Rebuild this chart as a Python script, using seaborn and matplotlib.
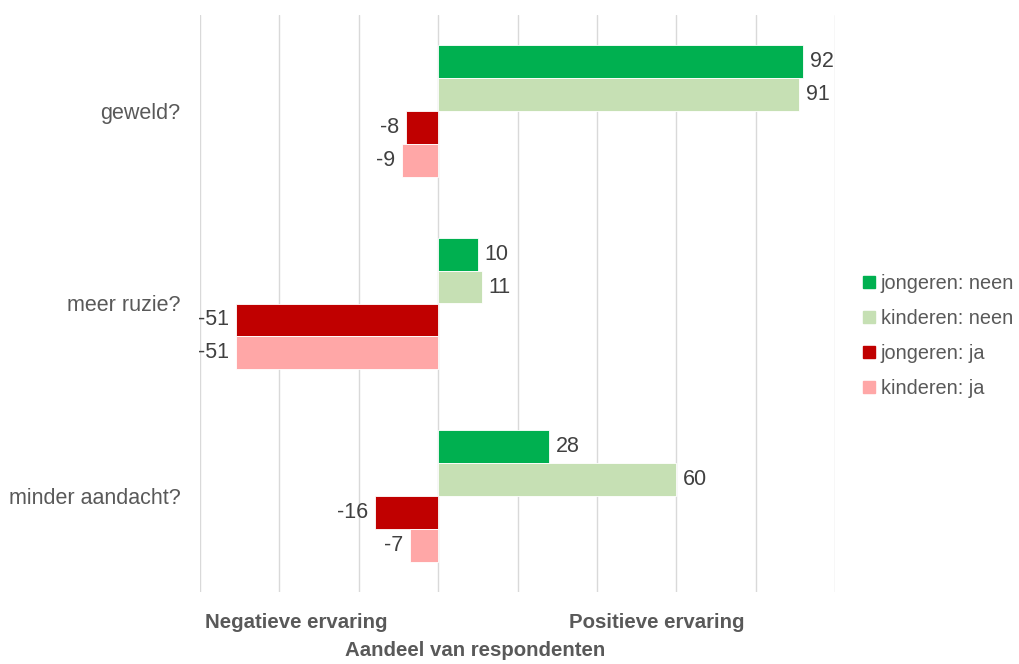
import matplotlib
matplotlib.use("Agg")
import matplotlib.pyplot as plt
import seaborn as sns
import pandas as pd

categories = ["geweld?", "meer ruzie?", "minder aandacht?"]
series = ["jongeren: neen", "kinderen: neen", "jongeren: ja", "kinderen: ja"]
jongeren_neen = [92, 10, 28]
kinderen_neen = [91, 11, 60]
jongeren_ja = [-8, -51, -16]
kinderen_ja = [-9, -51, -7]
colors = ["#00B050", "#C6E0B4", "#C00000", "#FFA7A7"]

rows = []
for name, vals in zip(series, [jongeren_neen, kinderen_neen, jongeren_ja, kinderen_ja]):
    for cat, v in zip(categories, vals):
        rows.append({"vraag": cat, "groep": name, "waarde": v})
df = pd.DataFrame(rows)

sns.set_theme(style="white")
plt.rcParams["font.family"] = ["Liberation Sans", "DejaVu Sans"]
fs = 15.5

fig = plt.figure(figsize=(10.19, 6.64), dpi=100)
ax = fig.add_axes([200 / 1019, 1 - 592 / 664, 635 / 1019, 577 / 664])

sns.barplot(data=df, y="vraag", x="waarde", hue="groep", order=categories,
            hue_order=series, palette=colors, orient="h", width=0.684,
            saturation=1, legend=False, ax=ax, edgecolor="white", linewidth=0.6)

for cont in ax.containers:
    labels = [f"{v:.0f}" for v in cont.datavalues]
    ax.bar_label(cont, labels=labels, padding=5, fontsize=fs, color="#404040")

ax.set_xlim(-60, 100)
ax.set_ylim(2.5, -0.5)
ax.set_xticks(range(-60, 101, 20))
ax.set_xticklabels([])
ax.xaxis.grid(True, color="#D9D9D9", linewidth=1)
ax.set_axisbelow(True)
for s in ax.spines.values():
    s.set_visible(False)
ax.tick_params(axis="y", length=0, pad=14, labelsize=fs, labelcolor="#595959")
ax.tick_params(axis="x", length=0)
ax.set_xlabel("")
ax.set_ylabel("")

fs_b = 14.7
fig.text(296 / 1019, 1 - 622 / 664, "Negatieve ervaring", ha="center", va="center",
         fontsize=fs_b, fontweight="bold", color="#595959")
fig.text(657 / 1019, 1 - 622 / 664, "Positieve ervaring", ha="center", va="center",
         fontsize=fs_b, fontweight="bold", color="#595959")
fig.text(475 / 1019, 1 - 651 / 664, "Aandeel van respondenten", ha="center", va="center",
         fontsize=fs_b, fontweight="bold", color="#595959")

fs_l = 14.3
handles = [plt.Rectangle((0, 0), 1, 1, color=c) for c in colors]
fig.legend(handles, series, loc="center left", bbox_to_anchor=(845 / 1019, 1 - 336 / 664),
           frameon=False, fontsize=fs_l, labelcolor="#595959", handlelength=0.6,
           handleheight=0.6, handletextpad=0.3, labelspacing=0.8)

fig.savefig("out.png", dpi=100)
